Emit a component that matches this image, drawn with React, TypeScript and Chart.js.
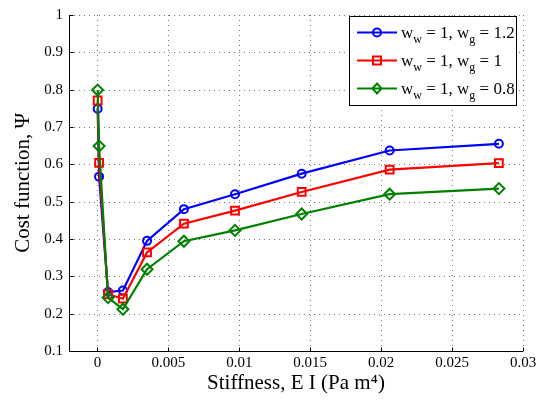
import React, { useEffect, useRef } from "react";
import { Chart, registerables } from "chart.js";

Chart.register(...registerables);

// ---------- data ----------
const stiffness = [0.00002, 0.00012, 0.00075, 0.0018, 0.0035, 0.0061, 0.0097, 0.0144, 0.0206, 0.0283];
const costG12 = [0.749, 0.567, 0.258, 0.262, 0.395, 0.48, 0.52, 0.575, 0.637, 0.655];
const costG10 = [0.771, 0.604, 0.252, 0.24, 0.364, 0.441, 0.476, 0.526, 0.586, 0.603];
const costG08 = [0.799, 0.649, 0.243, 0.212, 0.319, 0.394, 0.423, 0.467, 0.52, 0.535];

const xTickValues = [0, 0.005, 0.01, 0.015, 0.02, 0.025, 0.03];
const xTickLabels = ["0", "0.005", "0.01", "0.015", "0.02", "0.025", "0.03"];
const yTickValues = [0.1, 0.2, 0.3, 0.4, 0.5, 0.6, 0.7, 0.8, 0.9, 1];
const yTickLabels = ["0.1", "0.2", "0.3", "0.4", "0.5", "0.6", "0.7", "0.8", "0.9", "1"];

const legendGValues = ["1.2", "1", "0.8"];
const seriesColors = ["#0000ff", "#ff0000", "#008000"];
const seriesMarkers = ["circle", "rect", "rectRot"];

const FONT = "'Liberation Serif', 'Times New Roman', serif";

function drawMarker(ctx: CanvasRenderingContext2D, style: string, x: number, y: number, color: string) {
  ctx.save();
  ctx.strokeStyle = color;
  ctx.lineWidth = 2;
  ctx.beginPath();
  if (style === "circle") {
    ctx.arc(x, y, 4, 0, Math.PI * 2);
  } else if (style === "rect") {
    ctx.rect(x - 4, y - 4, 8, 8);
  } else {
    ctx.moveTo(x, y - 5);
    ctx.lineTo(x + 4.5, y);
    ctx.lineTo(x, y + 5);
    ctx.lineTo(x - 4.5, y);
    ctx.closePath();
  }
  ctx.stroke();
  ctx.restore();
}

const dottedGridPlugin = {
  id: "dottedGrid",
  beforeDatasetsDraw(chart: any) {
    const ctx = chart.ctx as CanvasRenderingContext2D;
    const xs = chart.scales.x;
    const ys = chart.scales.y;
    const a = chart.chartArea;
    ctx.save();
    ctx.strokeStyle = "#777777";
    ctx.lineWidth = 1;
    ctx.setLineDash([1, 4]);
    ctx.beginPath();
    xTickValues.forEach((v) => {
      const px = Math.round(xs.getPixelForValue(v)) + 0.5;
      ctx.moveTo(px, a.bottom);
      ctx.lineTo(px, a.top);
    });
    yTickValues.forEach((v) => {
      const py = Math.round(ys.getPixelForValue(v)) + 0.5;
      ctx.moveTo(a.left, py);
      ctx.lineTo(a.right, py);
    });
    ctx.stroke();
    ctx.restore();
  },
};

const axesPlugin = {
  id: "axesAndTicks",
  afterDraw(chart: any) {
    const ctx = chart.ctx as CanvasRenderingContext2D;
    const xs = chart.scales.x;
    const ys = chart.scales.y;
    const a = chart.chartArea;
    const L = Math.round(a.left) + 0.5;
    const B = Math.round(a.bottom) + 0.5;
    ctx.save();
    ctx.setLineDash([]);
    ctx.strokeStyle = "#000";
    ctx.lineWidth = 1;
    ctx.beginPath();
    ctx.moveTo(L, a.top);
    ctx.lineTo(L, B);
    ctx.lineTo(a.right, B);
    xTickValues.forEach((v) => {
      const px = Math.round(xs.getPixelForValue(v)) + 0.5;
      ctx.moveTo(px, B);
      ctx.lineTo(px, B - 4);
    });
    yTickValues.forEach((v) => {
      const py = Math.round(ys.getPixelForValue(v)) + 0.5;
      ctx.moveTo(L, py);
      ctx.lineTo(L + 4, py);
    });
    ctx.stroke();
    ctx.restore();
  },
};

const legendPlugin = {
  id: "subLegend",
  afterDraw(chart: any) {
    const ctx = chart.ctx as CanvasRenderingContext2D;
    const bx = 349.5, by = 16.5, bw = 167, bh = 89;
    ctx.save();
    ctx.setLineDash([]);
    ctx.fillStyle = "#fff";
    ctx.fillRect(bx, by, bw, bh);
    ctx.strokeStyle = "#000";
    ctx.lineWidth = 1;
    ctx.strokeRect(bx, by, bw, bh);
    const rows = [32.5, 60.5, 88.5];
    rows.forEach((cy, i) => {
      ctx.strokeStyle = seriesColors[i];
      ctx.lineWidth = 2;
      ctx.beginPath();
      ctx.moveTo(357, cy);
      ctx.lineTo(397, cy);
      ctx.stroke();
      drawMarker(ctx, seriesMarkers[i], 377, cy, seriesColors[i]);

      ctx.fillStyle = "#000";
      ctx.textBaseline = "alphabetic";
      ctx.textAlign = "left";
      const big = "17px " + FONT;
      const small = "12px " + FONT;
      const base = cy + 5;
      let x = 401;
      const put = (t: string, f: string, dy: number) => {
        ctx.font = f;
        ctx.fillText(t, x, base + dy);
        x += ctx.measureText(t).width;
      };
      put("w", big, 0);
      put("w", small, 5);
      put(" = 1, w", big, 0);
      put("g", small, 5);
      put(" = " + legendGValues[i], big, 0);
    });
    ctx.restore();
  },
};

export default function App() {
  const canvasRef = useRef<HTMLCanvasElement | null>(null);

  useEffect(() => {
    const canvas = canvasRef.current;
    if (!canvas) return;
    const series = [costG12, costG10, costG08];
    const gridOpts = {
      display: false,
      drawOnChartArea: false,
      drawTicks: false,
      tickLength: 0,
    };
    const chart = new Chart(canvas, {
      type: "line",
      data: {
        datasets: series.map((vals, i) => ({
          label: "w_w = 1, w_g = " + legendGValues[i],
          data: stiffness.map((x, k) => ({ x, y: vals[k] })),
          borderColor: seriesColors[i],
          backgroundColor: "rgba(0,0,0,0)",
          borderWidth: 2.2,
          pointStyle: seriesMarkers[i] as any,
          pointRadius: i === 0 ? 4 : 5.5,
          pointBorderWidth: 2,
          pointBackgroundColor: "rgba(0,0,0,0)",
          pointBorderColor: seriesColors[i],
          tension: 0,
          fill: false,
          order: 2 - i,
        })),
      },
      options: {
        responsive: false,
        animation: false,
        layout: { padding: { left: 0, right: 27, top: 9, bottom: 0 } },
        plugins: {
          legend: { display: false },
          tooltip: { enabled: false },
        },
        scales: {
          x: {
            type: "linear",
            min: -0.002,
            max: 0.03,
            afterBuildTicks: (scale: any) => {
              scale.ticks = xTickValues.map((v) => ({ value: v }));
            },
            afterFit: (scale: any) => {
              scale.height = 53;
            },
            ticks: {
              autoSkip: false,
              maxRotation: 0,
              padding: 3,
              color: "#000",
              font: { family: FONT, size: 15 },
              callback: (_v: any, idx: number) => xTickLabels[idx],
            },
            grid: gridOpts,
            border: { display: false },
            title: {
              display: true,
              text: "Stiffness, E I (Pa m\u2074)",
              color: "#000",
              font: { family: FONT, size: 21 },
              padding: { top: 0, bottom: 8 },
            },
          },
          y: {
            type: "linear",
            min: 0.1,
            max: 1,
            afterBuildTicks: (scale: any) => {
              scale.ticks = yTickValues.map((v) => ({ value: v }));
            },
            afterFit: (scale: any) => {
              scale.width = 69;
            },
            ticks: {
              autoSkip: false,
              padding: 6,
              color: "#000",
              font: { family: FONT, size: 15 },
              callback: (_v: any, idx: number) => yTickLabels[idx],
            },
            grid: gridOpts,
            border: { display: false },
            title: {
              display: true,
              text: "Cost function, \u03A8",
              color: "#000",
              font: { family: FONT, size: 21 },
              padding: { top: 11, bottom: 0 },
            },
          },
        },
      },
      plugins: [dottedGridPlugin, axesPlugin, legendPlugin],
    } as any);

    return () => chart.destroy();
  }, []);

  return (
    <div style={{ position: "absolute", left: 0, top: 0, width: 550, height: 404, background: "#fff" }}>
      <canvas ref={canvasRef} width={550} height={404} />
    </div>
  );
}
